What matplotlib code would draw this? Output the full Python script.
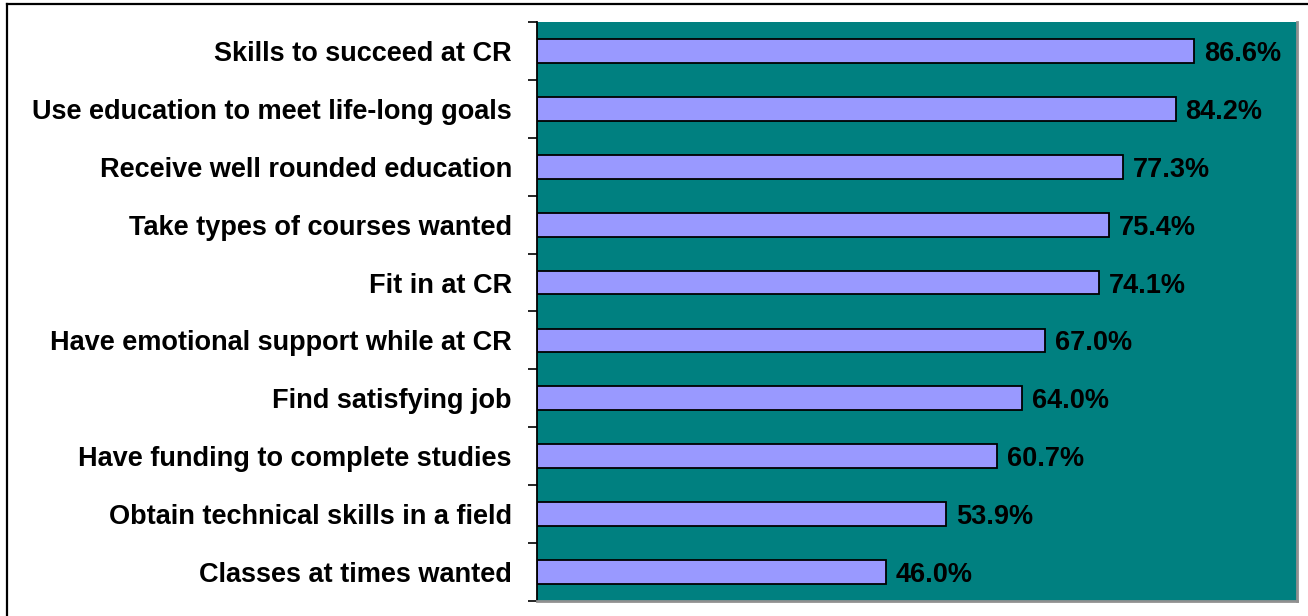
import matplotlib.pyplot as plt
from matplotlib.lines import Line2D
import numpy as np

# survey items, top to bottom as they appear in the chart
categories = [
    "Skills to succeed at CR",
    "Use education to meet life-long goals",
    "Receive well rounded education",
    "Take types of courses wanted",
    "Fit in at CR",
    "Have emotional support while at CR",
    "Find satisfying job",
    "Have funding to complete studies",
    "Obtain technical skills in a field",
    "Classes at times wanted",
]
percent = [86.6, 84.2, 77.3, 75.4, 74.1, 67.0, 64.0, 60.7, 53.9, 46.0]

plt.rcParams['font.family'] = ['Liberation Sans', 'DejaVu Sans']

fig = plt.figure(figsize=(13.08, 6.16), dpi=100)
ax = fig.add_axes([537 / 1308, 1 - 601 / 616, 760 / 1308, 579 / 616])
ax.set_facecolor('#008080')

n = len(categories)
y = np.arange(n)[::-1]
ax.barh(y, percent, height=0.41, color='#9999FF', edgecolor='black', linewidth=1.3)

for yi, v in zip(y, percent):
    ax.text(v + 1.3, yi, f"{v:.1f}%", va='center_baseline', ha='left',
            fontsize=19.5, fontweight='bold', color='black')

ax.set_xlim(0, 100.2)
ax.set_ylim(-0.5, n - 0.5)
ax.set_xticks([])

# labels on the category centres, tick marks on the boundaries
ax.set_yticks(y)
ax.set_yticklabels(categories, fontsize=19.5, fontweight='bold')
ax.tick_params(axis='y', which='major', length=0, pad=18)
ax.set_yticks(np.arange(-0.5, n, 1.0), minor=True)
ax.tick_params(axis='y', which='minor', length=6.5, width=1.2, color='black')

ax.spines['top'].set_visible(False)
ax.spines['left'].set_color('black')
ax.spines['left'].set_linewidth(1.3)
for s in ['right', 'bottom']:
    ax.spines[s].set_color('#909090')
    ax.spines[s].set_linewidth(2)

# outer frame lines (top and left edge of the picture)
fig.add_artist(Line2D([7 / 1308, 7 / 1308], [0, 1 - 4 / 616], transform=fig.transFigure,
                      color='black', linewidth=1.6))
fig.add_artist(Line2D([7 / 1308, 1], [1 - 4 / 616, 1 - 4 / 616], transform=fig.transFigure,
                      color='black', linewidth=1.6))

fig.savefig('out.png', dpi=100)
